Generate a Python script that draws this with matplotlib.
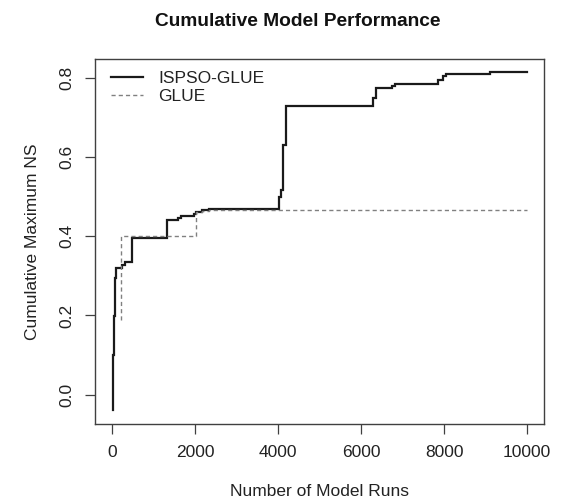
import matplotlib
matplotlib.use("Agg")
import matplotlib.pyplot as plt

# ISPSO-GLUE cumulative maximum NS (run at which value is reached, value)
ispso_runs = [25, 28, 31, 34, 38, 42, 47, 52, 56, 62, 68, 75, 82, 89, 250, 307, 476,
              1337, 1580, 1660, 1966, 2030, 2168, 2330, 4020, 4078, 4126, 4181, 6296,
              6361, 6739, 6819, 7863, 7968, 8048, 9108, 10000]
ispso_ns = [-0.038, 0.02, 0.06, 0.10, 0.13, 0.155, 0.175, 0.19, 0.198, 0.22, 0.245,
            0.27, 0.295, 0.32, 0.328, 0.336, 0.395, 0.442, 0.447, 0.451, 0.456, 0.4626,
            0.466, 0.470, 0.500, 0.517, 0.631, 0.729, 0.749, 0.774, 0.780, 0.784, 0.795,
            0.805, 0.810, 0.8144, 0.8144]

# GLUE cumulative maximum NS
glue_runs = [210, 212, 2030, 2168, 2330, 10000]
glue_ns = [0.189, 0.401, 0.4626, 0.465, 0.466, 0.466]

title = "Cumulative Model Performance"
xlabel = "Number of Model Runs"
ylabel = "Cumulative Maximum NS"
xticks = [0, 2000, 4000, 6000, 8000, 10000]
yticks = [0.0, 0.2, 0.4, 0.6, 0.8]

plt.rcParams['font.family'] = ['Liberation Sans', 'DejaVu Sans']

W, H = 561, 503
fig = plt.figure(figsize=(W / 100, H / 100), dpi=100)
left, right, top, bottom = 95.4, 543.6, 58.6, 424.0
ax = fig.add_axes([left / W, 1 - bottom / H, (right - left) / W, (bottom - top) / H])

ax.plot(ispso_runs, ispso_ns, drawstyle='steps-post', color='#1a1a1a', lw=1.6,
        label='ISPSO-GLUE', solid_joinstyle='miter')
ax.plot(glue_runs, glue_ns, drawstyle='steps-post', color='#808080', lw=1.0,
        dashes=(3.0, 2.2), label='GLUE')

ax.set_xlim(-400, 10400)
ax.set_ylim(-0.0742, 0.849)
ax.set_xticks(xticks)
ax.set_xticklabels([str(v) for v in xticks])
ax.set_yticks(yticks)
ax.set_yticklabels([f"{v:.1f}" for v in yticks], rotation=90, va='center')

fs = 12.5
for s in ax.spines.values():
    s.set_color('#404040')
    s.set_linewidth(1.0)
ax.tick_params(axis='both', direction='out', length=7.2, width=0.9, color='#404040',
               labelsize=fs, labelcolor='#222222', pad=8)

ax.set_xlabel(xlabel, fontsize=fs, color='#222222', va='center')
ax.xaxis.set_label_coords(0.5, (bottom - 492) / (bottom - top))
ax.set_ylabel(ylabel, fontsize=fs, color='#222222', va='center')
ax.yaxis.set_label_coords((33 - left) / (right - left), 0.5)

fig.text((153 + 442) / 2 / W, 1 - 22 / H, title, ha='center', va='center',
         fontsize=13.8, fontweight='bold', color='#111111')

ax.legend(loc='upper left', bbox_to_anchor=((110.7 - left) / (right - left), (bottom - 71) / (bottom - top)),
          frameon=False, fontsize=fs, handlelength=1.88, handletextpad=0.86,
          labelspacing=0.15, borderpad=0, borderaxespad=0, labelcolor='#222222')

fig.savefig('out.png', dpi=100)
